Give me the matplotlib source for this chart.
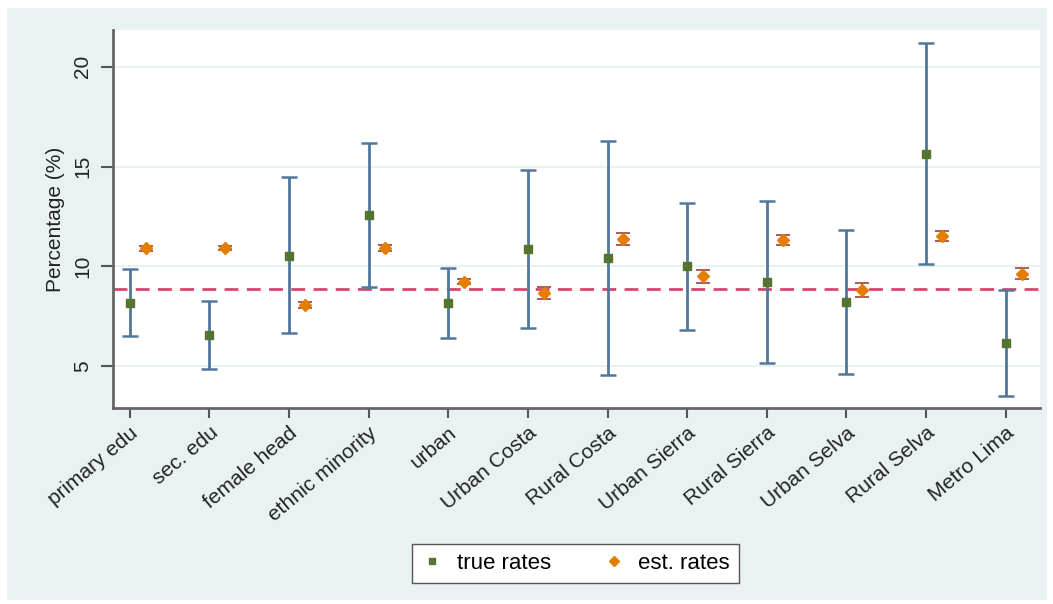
import numpy as np
import matplotlib
matplotlib.use("Agg")
import matplotlib.pyplot as plt
from matplotlib.lines import Line2D

plt.rcParams['font.family'] = ['Liberation Sans', 'DejaVu Sans']

categories = ['primary edu', 'sec. edu', 'female head', 'ethnic minority', 'urban',
              'Urban Costa', 'Rural Costa', 'Urban Sierra', 'Rural Sierra',
              'Urban Selva', 'Rural Selva', 'Metro Lima']

true_rate = [8.17, 6.58, 10.53, 12.58, 8.17, 10.88, 10.40, 10.00, 9.23, 8.22, 15.63, 6.17]
true_low = [6.50, 4.88, 6.65, 8.97, 6.42, 6.90, 4.55, 6.82, 5.18, 4.63, 10.12, 3.53]
true_high = [9.87, 8.28, 14.47, 16.20, 9.92, 14.85, 16.27, 13.17, 13.27, 11.83, 21.17, 8.80]

est_rate = [10.90, 10.93, 8.05, 10.90, 9.23, 8.67, 11.37, 9.50, 11.32, 8.82, 11.50, 9.63]
est_err = [0.12, 0.10, 0.15, 0.15, 0.12, 0.30, 0.30, 0.33, 0.25, 0.33, 0.25, 0.27]

overall_rate = 8.87

x = np.arange(len(categories))
true_rate = np.array(true_rate)
yerr_true = [true_rate - np.array(true_low), np.array(true_high) - true_rate]

fig = plt.figure(figsize=(10.53, 6.04), dpi=100)
fig.patch.set_facecolor('white')

# light grey-blue outer panel (Stata-like graph region)
bg = fig.add_axes([7 / 1053, 4 / 604, 1040 / 1053, 592 / 604], zorder=-1)
bg.set_facecolor('#e9f1f3')
bg.set_xticks([])
bg.set_yticks([])
for s in bg.spines.values():
    s.set_visible(False)

ax = fig.add_axes([113 / 1053, 1 - 408 / 604, 927 / 1053, 378 / 604], zorder=1)
ax.set_facecolor('white')

ax.axhline(overall_rate, color='#d8466c', lw=2, ls=(0, (5, 3)), zorder=2)

ax.errorbar(x, true_rate, yerr=yerr_true, fmt='s', color='#55752f', ms=6,
            ecolor='#50779c', elinewidth=2, capsize=5.5, capthick=1.8, zorder=3)
ax.errorbar(x + 0.2, est_rate, yerr=est_err, fmt='D', color='#e37e00', ms=6.5,
            ecolor='#a0403c', elinewidth=1.2, capsize=4.8, capthick=1.2, zorder=3)

ax.set_xlim(-0.21, 11.43)
ax.set_ylim(2.92, 21.83)
ax.set_yticks([5, 10, 15, 20])
ax.yaxis.grid(True, color='#e6eff1', lw=1.2)
ax.set_axisbelow(True)

ax.set_xticks(x)
ax.set_xticklabels(categories, rotation=40, ha='right', rotation_mode='anchor',
                   fontsize=15, color='#222222')
for lab in ax.get_yticklabels():
    lab.set_rotation(90)
    lab.set_va('center')
ax.tick_params(axis='y', labelsize=15, labelcolor='#222222', length=9, width=1.5,
               color='#555555', pad=6)
ax.tick_params(axis='x', length=7, width=1.5, color='#555555', pad=4)
ax.set_ylabel('Percentage (%)', fontsize=15, color='#222222', labelpad=6)

for side in ['top', 'right']:
    ax.spines[side].set_visible(False)
for side in ['left', 'bottom']:
    ax.spines[side].set_color('#666666')
    ax.spines[side].set_linewidth(2)

handles = [Line2D([], [], marker='s', ls='none', color='#55752f', ms=5),
           Line2D([], [], marker='D', ls='none', color='#e37e00', ms=5)]
fig.legend(handles, ['true rates', 'est. rates'], loc='center', mode='expand',
           bbox_to_anchor=(401 / 1053, 1 - 583 / 604, 349 / 1053, 39 / 604),
           ncol=2, fontsize=16, frameon=True, fancybox=False,
           edgecolor='#555555', facecolor='white', framealpha=1,
           handletextpad=0.6, columnspacing=1.5, handlelength=1.0, borderpad=0.4)

fig.savefig('out.png', dpi=100)
